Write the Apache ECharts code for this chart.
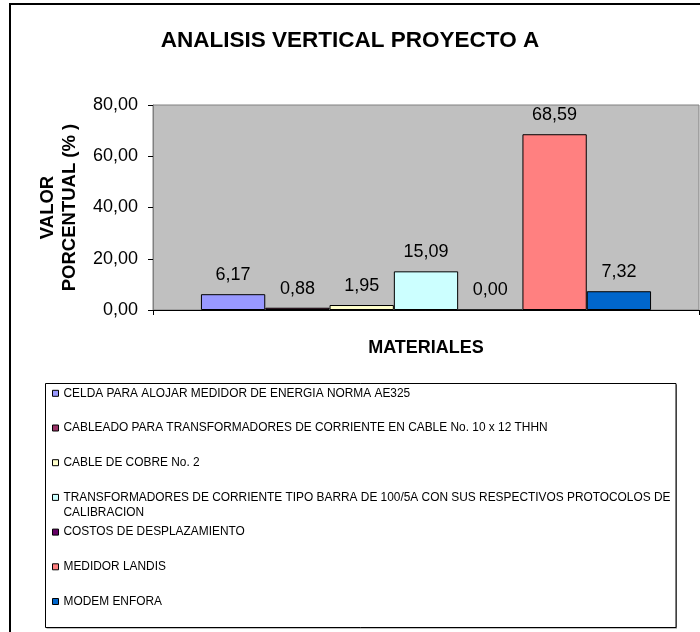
<!DOCTYPE html>
<html>
<head>
<meta charset="utf-8">
<title>ANALISIS VERTICAL PROYECTO A</title>
<script src="https://cdn.jsdelivr.net/npm/echarts@6/dist/echarts.min.js"></script>
<style>
  html, body { margin: 0; padding: 0; background: #ffffff; }
  #chart { width: 700px; height: 632px; }
</style>
</head>
<body>
<div id="chart"></div>
<script>
// Cost items of the project (one bar each) and their share of the total, in %
const materials = [
  'CELDA PARA ALOJAR MEDIDOR DE ENERGIA NORMA AE325',
  'CABLEADO PARA TRANSFORMADORES DE CORRIENTE EN CABLE No. 10 x 12 THHN',
  'CABLE DE COBRE No. 2',
  'TRANSFORMADORES DE CORRIENTE TIPO BARRA DE 100/5A CON SUS RESPECTIVOS PROTOCOLOS DE CALIBRACION',
  'COSTOS DE DESPLAZAMIENTO',
  'MEDIDOR LANDIS',
  'MODEM ENFORA'
];
const percentages = [6.17, 0.88, 1.95, 15.09, 0.00, 68.59, 7.32];

// Value axis ticks
const yTicks = [0, 20, 40, 60, 80];

// Classic spreadsheet palette, one colour per item
const palette = ['#9999FF', '#993366', '#FFFFCC', '#CCFFFF', '#660066', '#FF8080', '#0066CC'];

const FONT = '"Liberation Sans", Arial, sans-serif';
const fmt = v => Number(v).toFixed(2).replace('.', ',');

// Long legend entries are wrapped after this many characters
const LEGEND_WRAP = 86;
function wrapLines(text) {
  if (text.length <= LEGEND_WRAP) return [text];
  const cut = text.lastIndexOf(' ', LEGEND_WRAP);
  return [text.slice(0, cut), text.slice(cut + 1)];
}

// Legend rows keep a fixed pitch. A wrapped entry hangs below its marker:
// it gets its own block, padded above with blank lines so the marker sits
// on its first line, and the following rows continue on the same pitch.
const LEGEND_LINE = 15;
const LEGEND_PITCH = 34.7;
const LEGEND_TOP = 385.8;
const LEGEND_FONT = 11.9;

function legendBlock(names, top) {
  return {
    orient: 'vertical',
    left: 52,
    top: top,
    padding: 0,
    itemGap: LEGEND_PITCH - LEGEND_LINE,
    itemWidth: 6,
    itemHeight: 6,
    icon: 'rect',
    selectedMode: false,
    data: names,
    formatter: name => {
      const lines = wrapLines(name);
      const pad = new Array(lines.length - 1).fill('{s| }');
      return pad.concat(lines.map(s => '{t|' + s + '}')).join('\n');
    },
    itemStyle: { borderColor: '#000000', borderWidth: 1 },
    textStyle: {
      fontFamily: FONT,
      fontSize: LEGEND_FONT,
      color: '#000000',
      lineHeight: LEGEND_LINE,
      rich: {
        t: { fontFamily: FONT, fontSize: LEGEND_FONT, color: '#000000', lineHeight: LEGEND_LINE },
        s: { fontFamily: FONT, fontSize: LEGEND_FONT, color: 'transparent', lineHeight: LEGEND_LINE }
      }
    }
  };
}

function legendBlocks(names) {
  const blocks = [];
  let run = [];
  let runStart = 0;
  names.forEach((name, i) => {
    const lines = wrapLines(name);
    if (lines.length === 1) {
      if (!run.length) runStart = i;
      run.push(name);
      return;
    }
    if (run.length) blocks.push(legendBlock(run, LEGEND_TOP + runStart * LEGEND_PITCH));
    run = [];
    blocks.push(legendBlock([name], LEGEND_TOP + i * LEGEND_PITCH - (lines.length - 1) * LEGEND_LINE));
  });
  if (run.length) blocks.push(legendBlock(run, LEGEND_TOP + runStart * LEGEND_PITCH));
  return blocks;
}

const chart = echarts.init(document.getElementById('chart'), null, { renderer: 'canvas' });

const series = materials.map((name, i) => ({
  name: name,
  type: 'bar',
  data: [percentages[i]],
  barWidth: 64.3,
  barGap: '0%',
  itemStyle: { color: palette[i], borderColor: '#000000', borderWidth: 1 },
  label: {
    show: true,
    position: 'top',
    distance: 10,
    color: '#000000',
    fontFamily: FONT,
    fontSize: 18,
    formatter: p => fmt(p.value)
  },
  emphasis: { disabled: true },
  animation: false
}));

chart.setOption({
  backgroundColor: '#ffffff',
  animation: false,
  title: {
    text: 'ANALISIS VERTICAL PROYECTO A',
    left: 'center',
    top: 29.5,
    padding: 0,
    textStyle: { fontFamily: FONT, fontSize: 22.5, fontWeight: 'bold', color: '#000000' }
  },
  grid: {
    left: 153,
    top: 105,
    width: 546,
    height: 205,
    show: true,
    backgroundColor: '#C0C0C0',
    borderColor: '#808080',
    borderWidth: 1,
    containLabel: false,
    outerBoundsMode: 'none'
  },
  xAxis: {
    type: 'category',
    data: [''],
    name: 'MATERIALES',
    nameLocation: 'middle',
    nameGap: 29,
    nameTextStyle: { fontFamily: FONT, fontSize: 18, fontWeight: 'bold', color: '#000000' },
    axisLine: { show: true, lineStyle: { color: '#000000', width: 1 } },
    axisTick: { show: true, inside: false, length: 5, lineStyle: { color: '#000000' } },
    axisLabel: { show: false },
    splitLine: { show: false }
  },
  yAxis: {
    type: 'value',
    min: yTicks[0],
    max: yTicks[yTicks.length - 1],
    interval: yTicks[1] - yTicks[0],
    name: 'VALOR\nPORCENTUAL (% )',
    nameLocation: 'middle',
    nameGap: 72.5,
    nameTextStyle: { fontFamily: FONT, fontSize: 18.5, fontWeight: 'bold', color: '#000000', lineHeight: 21.5 },
    axisLine: { show: true, lineStyle: { color: '#808080', width: 1 } },
    axisTick: { show: true, inside: false, length: 5, lineStyle: { color: '#000000' } },
    axisLabel: { margin: 15, fontFamily: FONT, fontSize: 18, color: '#000000', formatter: v => fmt(v) },
    splitLine: { show: false }
  },
  legend: legendBlocks(materials),
  graphic: [
    {
      // outer chart frame
      type: 'rect',
      silent: true,
      z: -10,
      shape: { x: 10, y: 4, width: 720, height: 660 },
      style: { fill: 'none', stroke: '#000000', lineWidth: 2 }
    },
    {
      // legend frame shadow
      type: 'rect',
      silent: true,
      z: -6,
      shape: { x: 46.5, y: 384.5, width: 630.5, height: 244 },
      style: { fill: '#808080', stroke: 'none' }
    },
    {
      // legend frame
      type: 'rect',
      silent: true,
      z: -5,
      shape: { x: 45.5, y: 383.5, width: 630.5, height: 244 },
      style: { fill: '#ffffff', stroke: '#000000', lineWidth: 1 }
    }
  ],
  series: series
});
</script>
</body>
</html>
